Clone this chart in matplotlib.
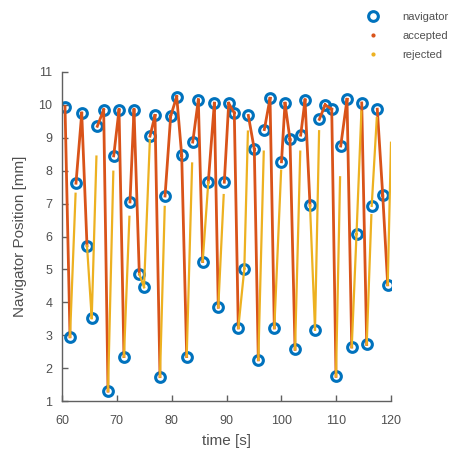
import numpy as np
import matplotlib
matplotlib.use("Agg")
import matplotlib.pyplot as plt
from matplotlib.lines import Line2D

plt.rcParams['font.family'] = ['Liberation Sans', 'DejaVu Sans']

# navigator echoes (time [s], position [mm])
nav_t = [60.55, 61.46, 62.55, 63.6, 64.56, 65.42, 66.44, 67.6, 68.39, 69.43,
         70.4, 71.3, 72.4, 73.13, 74.1, 74.96, 76.05, 76.96, 77.87, 78.79,
         79.82, 80.92, 81.83, 82.74, 83.84, 84.86, 85.66, 86.68, 87.78, 88.5,
         89.6, 90.4, 91.42, 92.15, 93.25, 93.98, 95.07, 95.8, 96.9, 97.94,
         98.72, 100.03, 100.67, 101.58, 102.5, 103.53, 104.32, 105.23, 106.14, 106.93,
         108.0, 109.19, 109.97, 110.83, 111.98, 112.84, 113.71, 114.66, 115.57, 116.48,
         117.5, 118.49, 119.4]
nav_y = [9.95, 2.95, 7.62, 9.75, 5.72, 3.52, 9.35, 9.85, 1.3, 8.45,
         9.85, 2.35, 7.05, 9.85, 4.86, 4.46, 9.05, 9.68, 1.74, 7.23,
         9.66, 10.25, 8.47, 2.35, 8.87, 10.15, 5.24, 7.65, 10.05, 3.85,
         7.65, 10.05, 9.76, 3.22, 5.02, 9.68, 8.65, 2.25, 9.25, 10.2,
         3.22, 8.27, 10.05, 8.95, 2.57, 9.08, 10.15, 6.95, 3.17, 9.56,
         10.0, 9.87, 1.75, 8.75, 10.17, 2.64, 6.07, 10.06, 2.72, 6.93,
         9.87, 7.26, 4.53]

# segments after these navigators were rejected, and where the rejected trace stops
rej_start = [1, 4, 5, 8, 11, 14, 15, 18, 23, 26, 29, 33, 34, 37, 40, 44, 47, 48,
             52, 55, 56, 58, 59]
rej_stop = [7.3, 3.52, 8.43, 7.97, 6.6, 4.46, 8.93, 6.9, 8.22, 7.65, 7.26, 5.02,
            9.19, 8.58, 8.0, 8.58, 3.17, 9.2, 7.8, 6.07, 9.8, 6.65, 9.6]
# last rejected trace runs off the right edge
tail_t = [119.4, 120.0]
tail_y = [4.53, 8.85]

nav_col = '#0072BD'
acc_col = '#D95319'
rej_col = '#EDB120'
txt_col = '#505050'

fig = plt.figure(figsize=(4.69, 4.57), dpi=100)
ax = fig.add_axes([62 / 469, 56 / 457, 329 / 469, 329 / 457])

ax.plot(nav_t, nav_y, 'o', ms=7, mfc='none', mec=nav_col, mew=2.2, zorder=2)

# accepted trace: every segment that is not rejected
acc_x, acc_y = [], []
for i in range(len(nav_t) - 1):
    if i in rej_start:
        continue
    acc_x += [nav_t[i], nav_t[i + 1], np.nan]
    acc_y += [nav_y[i], nav_y[i + 1], np.nan]
ax.plot(acc_x, acc_y, '-', color=acc_col, lw=2.0, zorder=3)

# rejected trace
rej_x, rej_y = [], []
for i, stop in zip(rej_start, rej_stop):
    t0, y0, t1, y1 = nav_t[i], nav_y[i], nav_t[i + 1], nav_y[i + 1]
    frac = (stop - y0) / (y1 - y0)
    rej_x += [t0, t0 + frac * (t1 - t0), np.nan]
    rej_y += [y0, stop, np.nan]
rej_x += tail_t
rej_y += tail_y
ax.plot(rej_x, rej_y, '-', color=rej_col, lw=1.6, zorder=4)

ax.set_xlim(60, 120)
ax.set_ylim(1, 11)
ax.set_xticks(range(60, 121, 10))
ax.set_yticks(range(1, 12))
for s in ['top', 'right']:
    ax.spines[s].set_visible(False)
for s in ['left', 'bottom']:
    ax.spines[s].set_color('#606060')
    ax.spines[s].set_linewidth(1.0)
ax.tick_params(direction='in', length=4, width=1, colors='#606060',
               labelsize=9, labelcolor=txt_col, pad=7)
ax.tick_params(axis='x', pad=10)
ax.set_xlabel('time [s]', fontsize=11, color=txt_col, labelpad=5)
ax.set_ylabel('Navigator Position [mm]', fontsize=11, color=txt_col, labelpad=8)

handles = [Line2D([], [], ls='none', marker='o', ms=7, mfc='none', mec=nav_col, mew=2.2),
           Line2D([], [], ls='none', marker='.', ms=4, color=acc_col),
           Line2D([], [], ls='none', marker='.', ms=4, color=rej_col)]
fig.legend(handles, ['navigator', 'accepted', 'rejected'], loc='upper left',
           bbox_to_anchor=(352 / 469, 1 - 2 / 457), frameon=False, fontsize=8,
           handlelength=2, handletextpad=1.6, labelspacing=0.8,
           labelcolor=txt_col)

fig.savefig('out.png', dpi=100)
